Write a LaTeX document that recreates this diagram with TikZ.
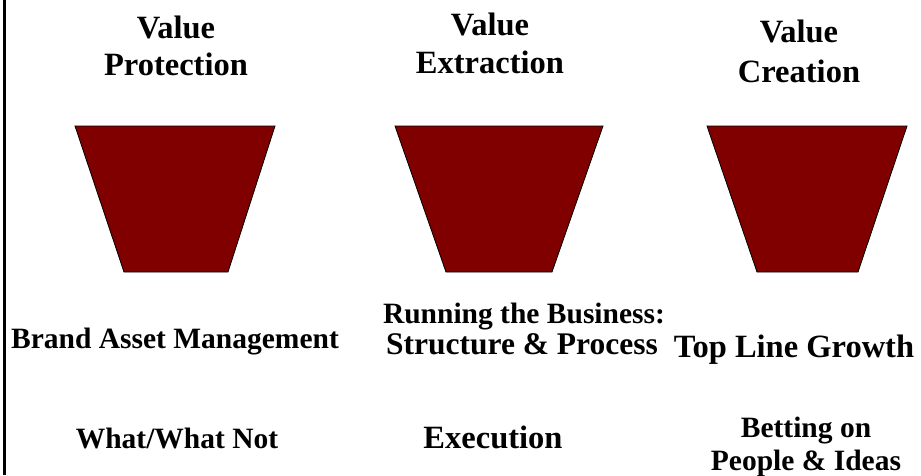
\documentclass[tikz,border=0pt]{standalone}
\usepackage{fontspec}
\setmainfont{Liberation Serif}
\usepackage{tikz}
\usetikzlibrary{positioning}
\definecolor{cupred}{RGB}{128,0,0}

\begin{document}
\begin{tikzpicture}[x=1pt,y=1pt]
\tikzstyle{every node}+=[inner sep=0pt,anchor=base,align=center]
\tikzstyle{bigtext}=[font=\fontsize{32.5}{38}\selectfont\bfseries]
\tikzstyle{smalltext}=[font=\fontsize{29.5}{33}\selectfont\bfseries]
\tikzstyle{cup}=[fill=cupred,draw=black,line width=0.8pt]
\useasboundingbox (0,0) rectangle (921,-475);
\draw [black,line width=2.5pt] (4.7,0) -- (4.7,-475);
% the three cups
\draw [cup] (75,-126) -- (275,-126) -- (228,-272) -- (124,-272) -- cycle;
\draw [cup] (395,-126) -- (603,-126) -- (552,-272) -- (446,-272) -- cycle;
\draw [cup] (707,-126) -- (907,-126) -- (858,-272) -- (757,-272) -- cycle;
% headings
\node [bigtext] (protect) at (176,-75) {Value\\[-1pt]Protection};
\node [bigtext] (extract) at (490,-73) {Value\\Extraction};
\node [bigtext] (create) at (799,-82) {Value\\[2pt]Creation};
% middle row
\node [smalltext] (brand) at (175,-348) {Brand Asset Management};
\node [smalltext] (running) at (524,-323) {Running the Business:};
\node [bigtext,font=\fontsize{31.5}{38}\selectfont\bfseries] (structure) at (522,-354) {Structure \& Process};
\node [bigtext] (topline) at (794,-357) {Top Line Growth};
% bottom row
\node [smalltext] (whatnot) at (177,-448) {What/What Not};
\node [bigtext] (execution) at (493,-448) {Execution};
\node [smalltext] (betting) at (806,-470) {Betting on\\People \& Ideas};
\end{tikzpicture}
\end{document}
